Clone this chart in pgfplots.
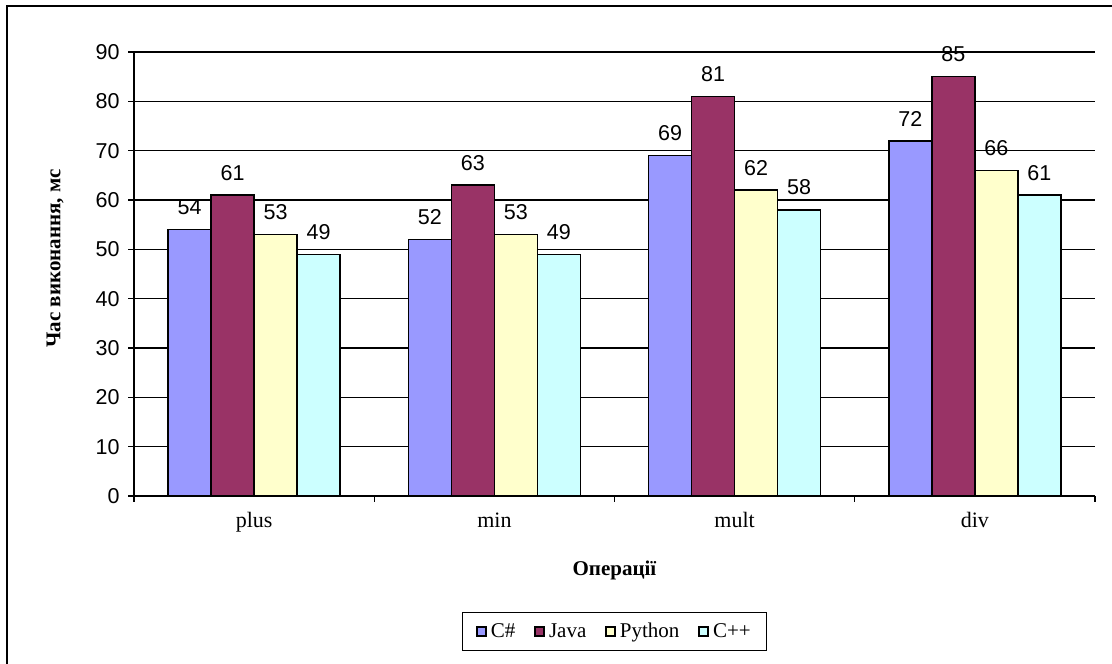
\documentclass[border=0pt]{standalone}
\usepackage{fontspec}
\setmainfont{Liberation Serif}
\newfontfamily\arial{Liberation Sans}
\usepackage{pgfplots}
\pgfplotsset{compat=1.18}

\definecolor{csharp}{HTML}{9999FF}
\definecolor{java}{HTML}{993366}
\definecolor{python}{HTML}{FFFFCC}
\definecolor{cpp}{HTML}{CCFFFF}

\begin{document}
\begin{tikzpicture}[x=1bp,y=1bp]
\path[use as bounding box] (0,0) rectangle (1112,664);
\draw[line width=1.5bp] (7,0) -- (7,658) -- (1112,658);
\begin{axis}[
  at={(134bp,168bp)}, anchor=south west,
  scale only axis, width=961bp, height=444bp,
  xmin=-0.5, xmax=3.5, ymin=0, ymax=90,
  axis x line=bottom, axis y line=left,
  axis line style={-, line width=1.3bp},
  ytick={0,10,...,90},
  ymajorgrids, grid style={black, line width=1.2bp},
  xtick={0,1,2,3}, xticklabels={plus,min,mult,div},
  major x tick style={draw=none},
  minor xtick={-0.5,0.5,1.5,2.5,3.5},
  tick align=outside, major tick length=6bp, minor tick length=6bp,
  tick style={black, line width=1.3bp},
  yticklabel style={font=\arial\fontsize{21.5bp}{21.5bp}\selectfont, xshift=-5bp},
  xticklabel style={font=\fontsize{22bp}{22bp}\selectfont, yshift=-7bp},
  /pgf/number format/assume math mode=true,
  xlabel={\textbf{Операції}},
  ylabel={\textbf{Час виконання, мс}},
  label style={font=\fontsize{21bp}{21bp}\selectfont},
  xlabel style={at={(axis description cs:0.5,-0.167)}, anchor=center},
  ylabel style={at={(axis description cs:-0.0822,0.535)}, anchor=center},
  ybar=0pt, bar width=43bp,
  nodes near coords,
  nodes near coords style={font=\arial\fontsize{21.5bp}{21.5bp}\selectfont, anchor=south, inner sep=0pt, yshift=14bp, black},
  legend columns=4,
  legend style={draw=black, line width=1.2bp, font=\fontsize{21bp}{21bp}\selectfont,
    at={(axis description cs:0.5,-0.305)}, anchor=center,
    inner xsep=14bp, inner ysep=9bp,
    /tikz/every odd column/.append style={column sep=2bp},
    /tikz/every even column/.append style={column sep=17bp}},
  legend image code/.code={\draw[#1, draw=black, line width=1.6bp] (0bp,-4.5bp) rectangle (9bp,4.5bp);},
]
\addplot[fill=csharp, draw=black, line width=1.5bp] coordinates {(0,54) (1,52) (2,69) (3,72)};
\addplot[fill=java, draw=black, line width=1.5bp] coordinates {(0,61) (1,63) (2,81) (3,85)};
\addplot[fill=python, draw=black, line width=1.5bp] coordinates {(0,53) (1,53) (2,62) (3,66)};
\addplot[fill=cpp, draw=black, line width=1.5bp] coordinates {(0,49) (1,49) (2,58) (3,61)};
\legend{C\#, Java, Python, C++}
\end{axis}
\end{tikzpicture}
\end{document}
